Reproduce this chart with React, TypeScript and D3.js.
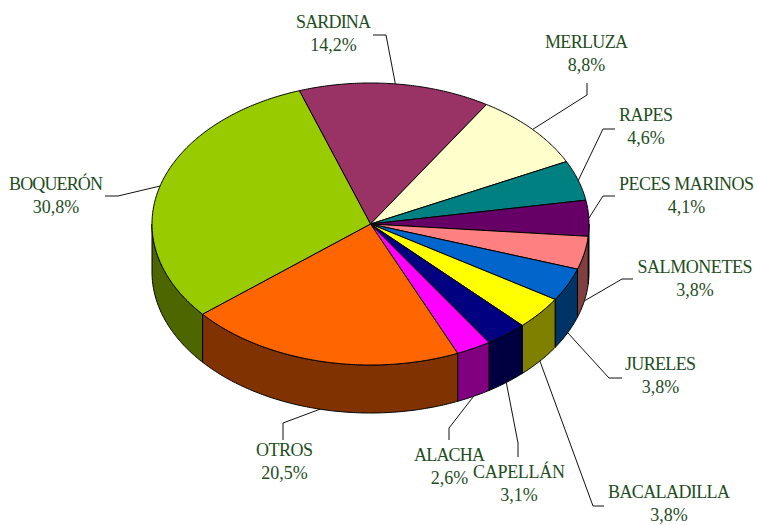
import React from 'react';
import * as d3 from 'd3';

const categories = ['SARDINA', 'MERLUZA', 'RAPES', 'PECES MARINOS', 'SALMONETES', 'JURELES', 'BACALADILLA', 'CAPELLÁN', 'ALACHA', 'OTROS', 'BOQUERÓN'];
const values = [14.2, 8.8, 4.6, 4.1, 3.8, 3.8, 3.8, 3.1, 2.6, 20.5, 30.8];
const topColors = ['#993366', '#ffffcc', '#008080', '#660066', '#ff8080', '#0066cc', '#ffff00', '#000080', '#ff00ff', '#ff6600', '#99cc00'];
const sideColors = ['#4d1a33', '#808066', '#004040', '#330033', '#804040', '#003366', '#808000', '#000040', '#800080', '#803300', '#4d6600'];

// label centre / first baseline / name width, then leader elbow and end
const labelX = [333.5, 586.5, 646, 686.5, 695, 660.5, 669, 519, 449.5, 284.5, 56];
const labelY = [28, 48, 121, 190, 273, 370, 498, 478, 461, 456, 190];
const nameWidths = [75, 83, 54, 135, 115, 71, 122, 92, 71, 57, 94];
const elbows = [[386, 35], [587, 95], [603, 129], [603, 196], [622, 279], [609, 378], [593, 506], [518, 443], [449, 428], [283, 423], [118, 196]];
const leaderEnds = [[373, 35], [587, 83], [615, 129], [615, 196], [633, 279], [622, 378], [604, 506], [518, 457], [449, 440], [283, 440], [105, 196]];

const width = 758;
const height = 525;
const cx = 370.5;
const cy = 224;
const rx = 218.5;
const ry = 141;
const depth = 48;
const startDeg = -19;

const xScale = d3.scaleLinear().domain([-1, 1]).range([cx - rx, cx + rx]);
const yScale = d3.scaleLinear().domain([-1, 1]).range([cy - ry, cy + ry]);

const pie = d3
  .pie<number>()
  .sort(null)
  .startAngle((startDeg * Math.PI) / 180)
  .endAngle((startDeg * Math.PI) / 180 + 2 * Math.PI);

const slices = pie(values);
const line = d3.line();

// point on the rim, angle clockwise from 12 o'clock
const rim = (a: number, dy = 0): [number, number] => [xScale(Math.sin(a)), yScale(-Math.cos(a)) + dy];

const sweep = (a0: number, a1: number, dy = 0) => {
  const n = Math.max(2, Math.ceil((a1 - a0) / 0.01));
  return d3.range(n + 1).map((i) => rim(a0 + ((a1 - a0) * i) / n, dy));
};

const topPath = (a0: number, a1: number) => line([[cx, cy], ...sweep(a0, a1)]) + 'Z';

const sidePath = (a0: number, a1: number) => {
  // the wall only shows on the front half
  const lo = Math.max(a0, Math.PI / 2);
  const hi = Math.min(a1, (3 * Math.PI) / 2);
  if (hi <= lo) return null;
  return line([...sweep(lo, hi), ...sweep(lo, hi, depth).reverse()]) + 'Z';
};

const leaderPath = (a0: number, a1: number, i: number) => {
  const mid = (a0 + a1) / 2;
  const start = rim(mid, Math.cos(mid) < 0 ? depth : 0);
  return line([start, elbows[i] as [number, number], leaderEnds[i] as [number, number]]);
};

export default function App() {
  return (
    <svg width={width} height={height} style={{ position: 'absolute', left: 0, top: 0, background: '#fff' }}>
      <g stroke="#000" strokeWidth={1} strokeLinejoin="round">
        {slices.map((s, i) => {
          const d = sidePath(s.startAngle, s.endAngle);
          return d ? <path key={i} d={d} fill={sideColors[i]} /> : null;
        })}
        {slices.map((s, i) => (
          <path key={i} d={topPath(s.startAngle, s.endAngle)} fill={topColors[i]} />
        ))}
      </g>
      <g fill="none" stroke="#111" strokeWidth={1}>
        {slices.map((s, i) => (
          <path key={i} d={leaderPath(s.startAngle, s.endAngle, i) as string} />
        ))}
      </g>
      <g fontFamily="'Liberation Serif', serif" fontSize={18} fill="#1e4d1e" textAnchor="middle">
        {categories.map((c, i) => (
          <g key={c}>
            <text x={labelX[i]} y={labelY[i]} textLength={nameWidths[i]} lengthAdjust="spacing">{c}</text>
            <text x={labelX[i]} y={labelY[i] + 23}>{d3.format('.1f')(values[i]).replace('.', ',')}%</text>
          </g>
        ))}
      </g>
    </svg>
  );
}
